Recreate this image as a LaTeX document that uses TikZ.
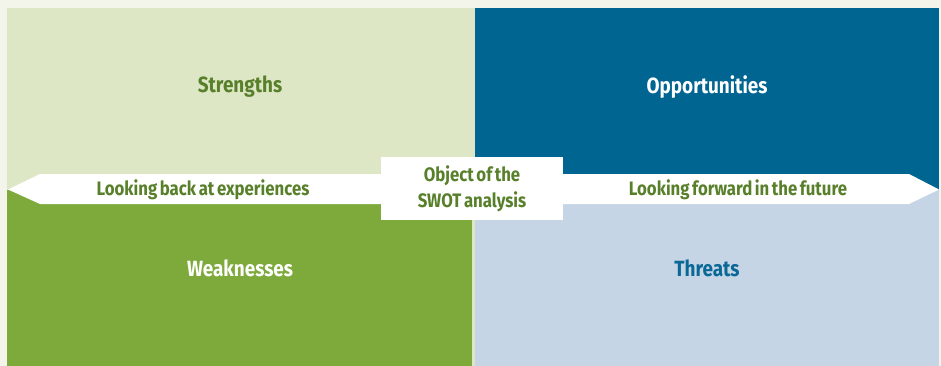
\documentclass[tikz,border=0pt]{standalone}
\usepackage{fontspec}
\setmainfont{Fira Sans}[FakeStretch=0.86]
\newfontfamily\tightfont{Fira Sans}[FakeStretch=0.86, WordSpace=0.65]
\definecolor{bgcream}{RGB}{243,245,234}
\definecolor{strengthfill}{RGB}{222,231,197}
\definecolor{oppfill}{RGB}{0,102,145}
\definecolor{weakfill}{RGB}{125,170,58}
\definecolor{threatfill}{RGB}{197,213,229}
\definecolor{swotgreen}{RGB}{88,128,42}
\definecolor{swotblue}{RGB}{10,104,150}
\tikzset{
  quad/.style={font=\bfseries\fontsize{22}{26}\selectfont},
  arrowtxt/.style={font=\tightfont\bfseries\fontsize{19.5}{26}\selectfont, text=swotgreen},
}
\begin{document}
\begin{tikzpicture}[x=1pt,y=1pt,yscale=-1]
\useasboundingbox (0,0) rectangle (941,366);

%Shape: Background
\fill [bgcream] (0,0) rectangle (941,366);

%Shape: Rectangle (gap strip)
\fill [strengthfill] (7,8) rectangle (939,366);
%Shape: Rectangle
\fill [strengthfill] (7,8) rectangle (472,190);
%Shape: Rectangle
\fill [oppfill] (475,8) rectangle (939,190);
%Shape: Rectangle
\fill [weakfill] (7,190) rectangle (472,366);
%Shape: Rectangle
\fill [threatfill] (475,190) rectangle (939,366);

%Shape: Arrow back
\fill [white] (8,189.5) -- (40,174) -- (382,174) -- (382,204) -- (40,204) -- cycle ;
%Shape: Arrow forward
\fill [white] (562,174) -- (909,174) -- (939,189.5) -- (909,204) -- (562,204) -- cycle ;

%Shape: Center box
\fill [white] (381,157) rectangle (563,220);

% Text Node
\node [quad, text=swotgreen] (strengths) at (240,87) {Strengths};
% Text Node
\node [quad, text=white] (opportunities) at (707,87) {Opportunities};
% Text Node
\node [quad, text=white] (weaknesses) at (240,268) {Weaknesses};
% Text Node
\node [quad, text=swotblue] (threats) at (707,268) {Threats};

% Text Node
\node [arrowtxt] (lookback) at (203,189.5) {Looking back at experiences};
% Text Node
\node [arrowtxt] (lookforward) at (738,189.5) {Looking forward in the future};
% Text Node
\node [arrowtxt, align=center, inner sep=0pt] (object) at (472,189) {Object of the\\SWOT analysis};

\end{tikzpicture}
\end{document}
